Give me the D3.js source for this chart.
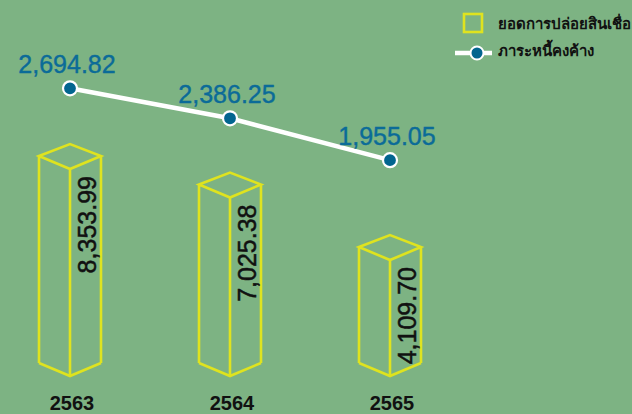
<!DOCTYPE html>
<html>
<head>
<meta charset="utf-8">
<script src="https://cdn.jsdelivr.net/npm/d3@7"></script>
<style>
  html, body { margin: 0; padding: 0; background: #7db383; }
  svg { display: block; }
</style>
</head>
<body>
<svg id="chart" width="632" height="414"></svg>
<script>
const years = ["2563", "2564", "2565"];
const loanValues = [8353.99, 7025.38, 4109.70];
const debtValues = [2694.82, 2386.25, 1955.05];
const legendLabels = ["ยอดการปล่อยสินเชื่อ", "ภาระหนี้คงค้าง"];

const W = 632, H = 414;
const bg = "#7db383", yellow = "#dfe31f", blue = "#02658f", labelBlue = "#0b6b98";
const fmt = d3.format(",.2f");

const svg = d3.select("#chart");
svg.append("rect").attr("width", W).attr("height", H).attr("fill", bg);

const x = d3.scalePoint().domain(years).range([70, 390]);
const yBar = d3.scaleLinear().domain([-1300, 9000]).range([363, 142.2]);
const yLine = d3.scaleLinear().domain([0, 3000]).range([350, 58.7]);

const hw = 31, dTop = 12, dFront = 13;
const base = yBar(yBar.domain()[0]);

const bars = svg.append("g").selectAll("g").data(years).join("g");
bars.each(function(yr, i) {
  const g = d3.select(this);
  const cx = x(yr), top = yBar(loanValues[i]);
  const l = cx - hw, r = cx + hw;
  const p = d3.path();
  p.moveTo(l, top); p.lineTo(cx, top - dTop); p.lineTo(r, top); p.lineTo(cx, top + dFront); p.closePath();
  p.moveTo(l, top); p.lineTo(l, base);
  p.moveTo(r, top); p.lineTo(r, base);
  p.moveTo(cx, top + dFront); p.lineTo(cx, base + dFront);
  p.moveTo(l, base); p.lineTo(cx, base + dFront); p.lineTo(r, base);
  g.append("path").attr("d", p.toString())
    .attr("fill", "none").attr("stroke", yellow).attr("stroke-width", 2.6)
    .attr("stroke-linejoin", "miter");
  g.append("text")
    .attr("transform", `translate(${r - 5},${top + dFront + 7}) rotate(-90)`)
    .attr("text-anchor", "end")
    .attr("font-family", "Liberation Sans, Arial, sans-serif")
    .attr("font-size", 25)
    .attr("fill", "#111").attr("stroke", "#111").attr("stroke-width", 0.5)
    .text(fmt(loanValues[i]));
  g.append("text")
    .attr("x", cx + 2).attr("y", 410)
    .attr("text-anchor", "middle")
    .attr("font-family", "Liberation Sans, Arial, sans-serif")
    .attr("font-weight", "bold")
    .attr("font-size", 20)
    .attr("fill", "#111")
    .text(yr);
});

const line = d3.line().x((d, i) => x(years[i])).y(d => yLine(d));
svg.append("path").datum(debtValues).attr("d", line)
  .attr("fill", "none").attr("stroke", "#fff").attr("stroke-width", 4.5);
svg.append("g").selectAll("circle").data(debtValues).join("circle")
  .attr("cx", (d, i) => x(years[i])).attr("cy", d => yLine(d)).attr("r", 7)
  .attr("fill", blue).attr("stroke", "#fff").attr("stroke-width", 2.2);
svg.append("g").selectAll("text").data(debtValues).join("text")
  .attr("x", (d, i) => x(years[i]) - 3).attr("y", d => yLine(d) - 15)
  .attr("text-anchor", "middle")
  .attr("font-family", "Liberation Sans, Arial, sans-serif")
  .attr("font-size", 25)
  .attr("fill", labelBlue).attr("stroke", labelBlue).attr("stroke-width", 0.4)
  .text(d => fmt(d));

const lg = svg.append("g");
lg.append("rect").attr("x", 464).attr("y", 14).attr("width", 18).attr("height", 18)
  .attr("fill", "none").attr("stroke", yellow).attr("stroke-width", 2.6);
lg.append("line").attr("x1", 455).attr("x2", 492).attr("y1", 53).attr("y2", 53)
  .attr("stroke", "#fff").attr("stroke-width", 4.5);
lg.append("circle").attr("cx", 477).attr("cy", 53).attr("r", 6.5)
  .attr("fill", blue).attr("stroke", "#fff").attr("stroke-width", 2);
lg.selectAll("text").data(legendLabels).join("text")
  .attr("x", 498).attr("y", (d, i) => 29 + i * 27)
  .attr("font-family", "Noto Sans, DejaVu Sans, sans-serif")
  .attr("font-weight", "bold")
  .attr("font-size", 15)
  .attr("fill", "#111")
  .text(d => d);
</script>
</body>
</html>
